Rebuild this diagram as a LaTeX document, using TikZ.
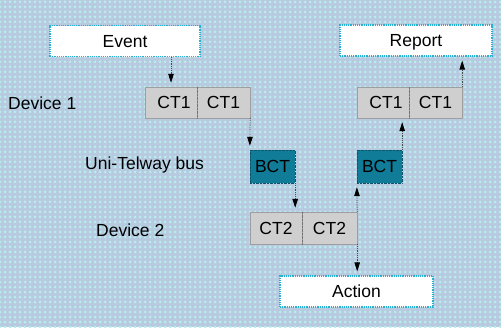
\documentclass[tikz,border=0pt]{standalone}
\usepackage{fontspec}
\setmainfont{Liberation Sans}
\usetikzlibrary{positioning,arrows.meta,patterns.meta}
\definecolor{bgblue}{RGB}{184,202,224}
\definecolor{bgdot}{RGB}{184,238,238}
\definecolor{bctteal}{RGB}{16,124,152}
\definecolor{boxrim}{RGB}{40,176,208}
\tikzset{
  evbox/.style={draw=boxrim,densely dotted,line width=1.2pt,fill=white,
    minimum height=31pt,inner sep=0pt,text depth=0pt},
  ctbox/.style={draw=black!38,fill=black!19,minimum height=31pt,inner sep=0pt},
  bctbox/.style={draw=bctteal!70!black,densely dotted,fill=bctteal,
    minimum width=45pt,minimum height=33pt,inner sep=0pt},
  flow/.style={densely dotted,black!70,line width=0.8pt,shorten >=4pt,
    -{Triangle[length=9pt,width=5.5pt,black]}},
  lbl/.style={anchor=west,inner sep=0pt},
}
\begin{document}
\begin{tikzpicture}[x=1pt,y=-1pt,font=\fontsize{17.5}{20}\selectfont]
  % background
  \useasboundingbox (0,0) rectangle (501,327);
  \fill[bgblue] (0,0) rectangle (501,327);
  \fill[pattern={Dots[distance=5pt,radius=1.5pt]},pattern color=bgdot]
    (0,0) rectangle (501,327);
  % outer boxes
  \node[evbox,minimum width=150pt] (ev)  at (125,41)      {Event};
  \node[evbox,minimum width=152pt] (rep) at (416,40.5)    {Report};
  \node[evbox,minimum width=153pt] (act) at (356.5,291.5) {Action};
  % device 1 frames
  \node[ctbox,minimum width=52pt] (ct1a) at (171,102.5)   {\hspace{6pt}CT1};
  \node[ctbox,minimum width=53pt] (ct1b) at (223.5,102.5) {CT1};
  \node[ctbox,minimum width=52pt] (ct1c) at (383,102.5)   {\hspace{6pt}CT1};
  \node[ctbox,minimum width=53pt] (ct1d) at (435.5,102.5) {CT1};
  % bus frames
  \node[bctbox] (bct1) at (272.5,166.5) {BCT};
  \node[bctbox] (bct2) at (379.5,166.5) {BCT};
  % device 2 frames
  \node[ctbox,minimum width=52pt,minimum height=32pt] (ct2a) at (276,228)   {CT2};
  \node[ctbox,minimum width=55pt,minimum height=32pt] (ct2b) at (329.5,228) {CT2};
  \draw[densely dotted,black!55] (ct1a.north east) -- (ct1a.south east);
  \draw[densely dotted,black!55] (ct1c.north east) -- (ct1c.south east);
  \draw[densely dotted,black!55] (ct2a.north east) -- (ct2a.south east);
  % labels
  \node[lbl] (dev1) at (8,103)  {Device 1};
  \node[lbl] (bus)  at (85,165) {Uni-Telway bus};
  \node[lbl] (dev2) at (96,230) {Device 2};
  % exchanges
  \draw[flow] (ev.south -| ct1a) -- (ct1a.north);
  \draw[flow] (ct1b.south east) -- (bct1.north west);
  \draw[flow] (bct1.south east) -- (bct1.south east |- ct2a.north);
  \draw[flow] (ct2b.north east) -- (bct2.south west);
  \draw[flow] (ct2b.south east) -- (ct2b.south east |- act.north);
  \draw[flow] (bct2.north east) -- (bct2.north east |- ct1c.south);
  \draw[flow] (ct1d.north east) -- (ct1d.north east |- rep.south);
\end{tikzpicture}
\end{document}
